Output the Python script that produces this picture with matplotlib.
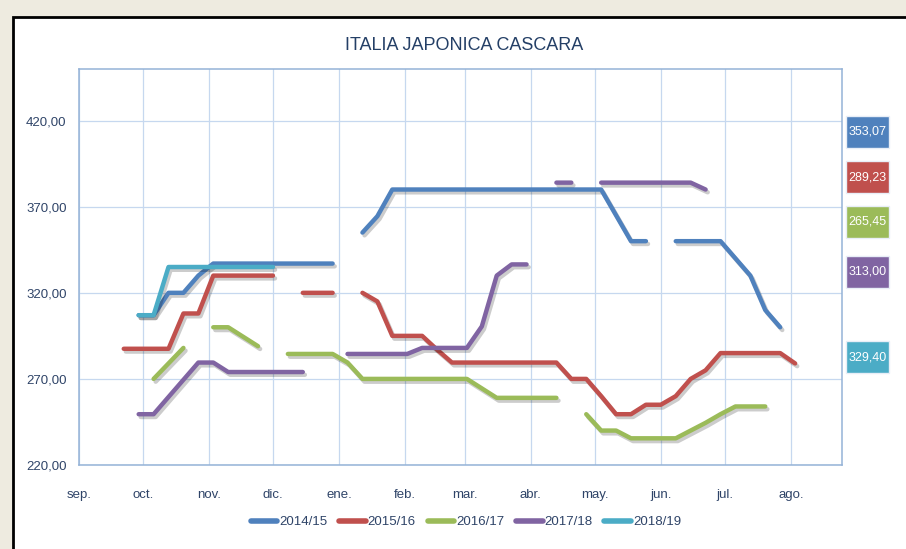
import numpy as np
import pandas as pd
import matplotlib
matplotlib.use('Agg')
import matplotlib.pyplot as plt
import matplotlib.patheffects as pe
from matplotlib.patches import Rectangle
from matplotlib.lines import Line2D

nan = np.nan

# weekly price points, week 0 = first week of september
weeks = pd.date_range('2018-09-01', periods=49, freq='7D')
months = pd.date_range('2018-09-01', periods=12, freq='MS')
month_labels = ['sep.', 'oct.', 'nov.', 'dic.', 'ene.', 'feb.',
                'mar.', 'abr.', 'may.', 'jun.', 'jul.', 'ago.']

seasons = ['2014/15', '2015/16', '2016/17', '2017/18', '2018/19']
colors = ['#4f81bd', '#c0504d', '#9bbb59', '#8064a2', '#4bacc6']

p_1415 = [nan, nan, nan, nan, 307, 307, 320, 320, 330, 337,
          337, 337, 337, 337, 337, 337, 337, 337, nan, 355,
          364.5, 380, 380, 380, 380, 380, 380, 380, 380, 380,
          380, 380, 380, 380, 380, 380, 365, 350, 350, nan,
          350, 350, 350, 350, 340, 330, 310, 300, nan]
p_1516 = [nan, nan, nan, 287.5, 287.5, 287.5, 287.5, 308, 308, 330,
          330, 330, 330, 330, nan, 320, 320, 320, nan, 320,
          315, 295, 295, 295, 287, 279.5, 279.5, 279.5, 279.5, 279.5,
          279.5, 279.5, 279.5, 270, 270, 260, 249.5, 249.5, 255, 255,
          260, 270, 275, 285, 285, 285, 285, 285, 279]
p_1617 = [nan, nan, nan, nan, nan, 270, 279, 288, nan, 300,
          300, 294.5, 289, nan, 284.5, 284.5, 284.5, 284.5, 279.5, 270,
          270, 270, 270, 270, 270, 270, 270, 264.5, 259, 259,
          259, 259, 259, nan, 249.5, 240, 240, 235.5, 235.5, 235.5,
          235.5, 240, 244.5, 249.5, 254, 254, 254, nan, nan]
p_1718 = [nan, nan, nan, nan, 249.5, 249.5, 259.5, 269.5, 279.5, 279.5,
          274, 274, 274, 274, 274, 274, nan, nan, 284.5, 284.5,
          284.5, 284.5, 284.5, 288, 288, 288, 288, 300.5, 330, 336.5,
          336.5, nan, 384, 384, nan, 384, 384, 384, 384, 384,
          384, 384, 380, nan, nan, nan, nan, nan, nan]
p_1819 = [nan, nan, nan, nan, 307, 307, 335, 335, 335, 335,
          335, 335, 335, 335, nan, nan, nan, nan, nan, nan,
          nan, nan, nan, nan, nan, nan, nan, nan, nan, nan,
          nan, nan, nan, nan, nan, nan, nan, nan, nan, nan,
          nan, nan, nan, nan, nan, nan, nan, nan, nan]
series = [p_1415, p_1516, p_1617, p_1718, p_1819]

# current values shown in the boxes at the right
box_values = ['353,07', '289,23', '265,45', '313,00', '329,40']

FONT = ['Liberation Sans', 'DejaVu Sans']
plt.rcParams['font.family'] = FONT
text_col = '#2f4468'
grid_col = '#c6d8ef'
spine_col = '#95b3d7'

W, H = 906, 549
fig = plt.figure(figsize=(W / 100, H / 100), dpi=100, facecolor='#eeebe0')

# white panel with black frame
fig.add_artist(Rectangle((13 / W, -0.05), 1.1, 1 - 17 / H + 0.05,
                         transform=fig.transFigure, facecolor='white',
                         edgecolor='black', linewidth=2, zorder=0))

ax = fig.add_axes([79 / W, 1 - 465 / H, (842 - 79) / W, (465 - 69) / H])
ax.set_facecolor('none')

shadow = [pe.SimpleLineShadow(offset=(1.5, -2), shadow_color='k', alpha=0.2),
          pe.Normal()]
for vals, c in zip(series, colors):
    ax.plot(weeks, np.array(vals, dtype=float), color=c, lw=3.2,
            solid_capstyle='round', solid_joinstyle='round',
            path_effects=shadow, zorder=3)

ax.set_ylim(220, 450)
ax.set_yticks([220, 270, 320, 370, 420])
ax.set_yticklabels(['{:.2f}'.format(v).replace('.', ',') for v in ax.get_yticks()])
ax.set_xlim(weeks[0], pd.Timestamp('2019-08-25'))
ax.set_xticks(months)
ax.set_xticklabels(month_labels)
ax.tick_params(length=0, labelsize=9.5, labelcolor=text_col)
ax.tick_params(axis='x', pad=17)
ax.tick_params(axis='y', pad=9)
ax.grid(True, color=grid_col, lw=0.9)
ax.set_axisbelow(True)
for s in ax.spines.values():
    s.set_color(spine_col)
    s.set_linewidth(1.1)

fig.text(464 / W, 1 - 45 / H, 'ITALIA JAPONICA CASCARA', ha='center',
         va='center', fontsize=13, color='#243f66')

handles = [Line2D([], [], color=c, lw=4, solid_capstyle='round') for c in colors]
fig.legend(handles, seasons, loc='center', bbox_to_anchor=(466 / W, 1 - 522 / H),
           ncol=5, frameon=False, fontsize=9.5, labelcolor=text_col,
           handlelength=2.0, handletextpad=0.15, columnspacing=0.9)

box_y = [132, 177, 222, 272, 357]
for i, y in enumerate(box_y):
    fig.add_artist(Rectangle((846 / W, 1 - (y + 16) / H), 43 / W, 32 / H,
                             transform=fig.transFigure, facecolor=colors[i],
                             edgecolor='#e8eef7', linewidth=1, zorder=4))
    fig.text(867.5 / W, 1 - y / H, box_values[i], ha='center', va='center',
             fontsize=9, color='white', zorder=5)

fig.savefig('out.png', dpi=100, facecolor=fig.get_facecolor())
